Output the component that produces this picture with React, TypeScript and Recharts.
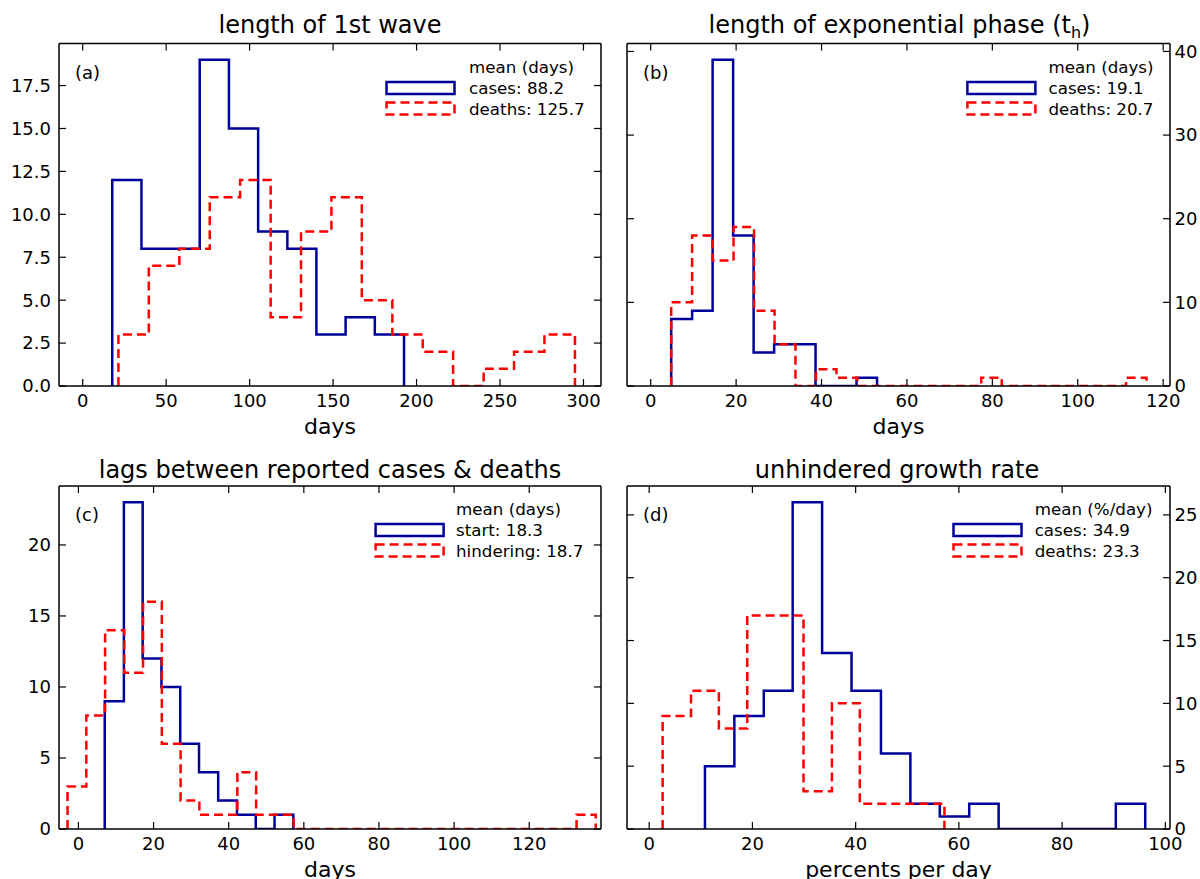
import React from 'react';
import { LineChart, Line, XAxis, YAxis, Legend } from 'recharts';

const FONT = "'DejaVu Sans', 'Bitstream Vera Sans', sans-serif";
const BLUE = '#00009c';
const RED = '#ff0000';

// ---------- panel (a): length of 1st wave ----------
const aCasesEdges = [17.7, 35.2, 52.6, 70.1, 87.6, 105.1, 122.6, 140.0, 157.5, 175.0, 192.5];
const aCasesCounts = [12, 8, 8, 19, 15, 9, 8, 3, 4, 3];
const aDeathsEdges = [21.4, 39.6, 57.9, 76.1, 94.3, 112.6, 130.8, 149.0, 167.2, 185.5, 203.7, 221.9, 240.2, 258.4, 276.6, 294.9];
const aDeathsCounts = [3, 7, 8, 11, 12, 4, 9, 11, 5, 3, 2, 0, 1, 2, 3];
const aXTicks = [0, 50, 100, 150, 200, 250, 300];
const aYTicks = [0, 2.5, 5, 7.5, 10, 12.5, 15, 17.5];
const aNames = ['cases: 88.2', 'deaths: 125.7'];

// ---------- panel (b): length of exponential phase ----------
const bCasesEdges = [4.8, 9.7, 14.5, 19.3, 24.1, 28.9, 33.8, 38.6, 43.4, 48.2, 53.0];
const bCasesCounts = [8, 9, 39, 18, 4, 5, 5, 0, 0, 1];
const bDeathsEdges = [4.8, 9.7, 14.5, 19.4, 24.2, 29.0, 33.9, 38.7, 43.5, 48.4, 53.2, 58.0, 62.9, 67.7, 72.6, 77.4, 82.2, 87.1, 91.9, 96.7, 101.6, 106.4, 111.3, 116.1];
const bDeathsCounts = [10, 18, 15, 19, 9, 5, 0, 2, 1, 0, 0, 0, 0, 0, 0, 1, 0, 0, 0, 0, 0, 0, 1];
const bXTicks = [0, 20, 40, 60, 80, 100, 120];
const bYTicks = [0, 10, 20, 30, 40];
const bNames = ['cases: 19.1', 'deaths: 20.7'];

// ---------- panel (c): lags between reported cases & deaths ----------
const cStartEdges = [7.0, 12.1, 17.1, 22.1, 27.1, 32.1, 37.2, 42.2, 47.2, 52.2, 57.2];
const cStartCounts = [9, 23, 12, 10, 6, 4, 2, 1, 0, 1];
const cHinderEdges = [-2.9, 2.1, 7.1, 12.2, 17.2, 22.2, 27.2, 32.2, 37.3, 42.3, 47.3, 52.3, 57.3, 62.4, 67.4, 72.4, 77.4, 82.4, 87.5, 92.5, 97.5, 102.5, 107.5, 112.6, 117.6, 122.6, 127.6, 132.6, 137.7];
const cHinderCounts = [3, 8, 14, 11, 16, 6, 2, 1, 1, 4, 1, 1, 0, 0, 0, 0, 0, 0, 0, 0, 0, 0, 0, 0, 0, 0, 0, 1];
const cXTicks = [0, 20, 40, 60, 80, 100, 120];
const cYTicks = [0, 5, 10, 15, 20];
const cNames = ['start: 18.3', 'hindering: 18.7'];

// ---------- panel (d): unhindered growth rate ----------
const dCasesEdges = [10.8, 16.5, 22.2, 27.8, 33.5, 39.2, 44.9, 50.6, 56.3, 62.0, 67.7, 73.4, 79.1, 84.8, 90.4, 96.1];
const dCasesCounts = [5, 9, 11, 26, 14, 11, 6, 2, 1, 2, 0, 0, 0, 0, 2];
const dDeathsEdges = [2.6, 8.1, 13.5, 19.0, 24.4, 29.9, 35.4, 40.8, 46.3, 51.7, 57.2];
const dDeathsCounts = [9, 11, 8, 17, 17, 3, 10, 2, 2, 2];
const dXTicks = [0, 20, 40, 60, 80, 100];
const dYTicks = [0, 5, 10, 15, 20, 25];
const dNames = ['cases: 34.9', 'deaths: 23.3'];

function stepPoints(edges: number[], counts: number[]) {
  const pts: { x: number; y: number }[] = [{ x: edges[0], y: 0 }];
  counts.forEach((c, i) => {
    pts.push({ x: edges[i], y: c });
    pts.push({ x: edges[i + 1], y: c });
  });
  pts.push({ x: edges[edges.length - 1], y: 0 });
  return pts;
}

type PanelCfg = {
  left: number; top: number; W: number; H: number;
  plot: { l: number; r: number; t: number; b: number };
  leftW: number; rightW: number; labelSide: 'left' | 'right';
  xDomain: [number, number]; yDomain: [number, number];
  xTicks: number[]; yTicks: number[]; yFmt: (v: number) => string;
  title: string; sub?: string; titleX: number; titleY: number;
  xLabel: string; legendTitle: string; names: string[];
  handleOff: number; textOff: number; letter: string;
  s1: { x: number; y: number }[]; s2: { x: number; y: number }[];
};

const panels: PanelCfg[] = [
  {
    left: 0, top: 0, W: 610, H: 440, plot: { l: 59, r: 601, t: 43.5, b: 386 },
    leftW: 59, rightW: 1, labelSide: 'left',
    xDomain: [-14.2, 310.5], yDomain: [0, 19.95], xTicks: aXTicks, yTicks: aYTicks,
    yFmt: (v) => v.toFixed(1), title: 'length of 1st wave', titleX: 330, titleY: 32.5,
    xLabel: 'days', legendTitle: 'mean (days)', names: aNames, handleOff: 214.5, textOff: 132, letter: '(a)',
    s1: stepPoints(aCasesEdges, aCasesCounts), s2: stepPoints(aDeathsEdges, aDeathsCounts),
  },
  {
    left: 600, top: 0, W: 600, H: 440, plot: { l: 27, r: 570, t: 43.5, b: 386 },
    leftW: 1, rightW: 30, labelSide: 'right',
    xDomain: [-5.55, 121.6], yDomain: [0, 40.95], xTicks: bXTicks, yTicks: bYTicks,
    yFmt: (v) => String(v), title: 'length of exponential phase (t', sub: 'h', titleX: 299.5, titleY: 33,
    xLabel: 'days', legendTitle: 'mean (days)', names: bNames, handleOff: 202.6, textOff: 121.5, letter: '(b)',
    s1: stepPoints(bCasesEdges, bCasesCounts), s2: stepPoints(bDeathsEdges, bDeathsCounts),
  },
  {
    left: 0, top: 440, W: 610, H: 439, plot: { l: 59, r: 601, t: 46, b: 389 },
    leftW: 59, rightW: 1, labelSide: 'left',
    xDomain: [-5.17, 139.1], yDomain: [0, 24.15], xTicks: cXTicks, yTicks: cYTicks,
    yFmt: (v) => String(v), title: 'lags between reported cases & deaths', titleX: 330, titleY: 37.5,
    xLabel: 'days', legendTitle: 'mean (days)', names: cNames, handleOff: 225.4, textOff: 145, letter: '(c)',
    s1: stepPoints(cStartEdges, cStartCounts), s2: stepPoints(cHinderEdges, cHinderCounts),
  },
  {
    left: 600, top: 440, W: 600, H: 439, plot: { l: 27, r: 570, t: 46, b: 389 },
    leftW: 1, rightW: 30, labelSide: 'right',
    xDomain: [-4.3, 100.9], yDomain: [0, 27.3], xTicks: dXTicks, yTicks: dYTicks,
    yFmt: (v) => String(v), title: 'unhindered growth rate', titleX: 297, titleY: 37.5,
    xLabel: 'percents per day', legendTitle: 'mean (%/day)', names: dNames, handleOff: 216.5, textOff: 135.3, letter: '(d)',
    s1: stepPoints(dCasesEdges, dCasesCounts), s2: stepPoints(dDeathsEdges, dDeathsCounts),
  },
];

const axisLine = { stroke: '#000', strokeWidth: 1.5 };
const tickLine = { stroke: '#000', strokeWidth: 1.2 };
const tickText = { fill: '#000', fontSize: 18, fontFamily: FONT };
const NoTick = () => <g />;

function Panel({ cfg }: { cfg: PanelCfg }) {
  const { plot, W, H } = cfg;
  const margin = {
    top: plot.t - 1,
    bottom: H - plot.b - 50,
    left: plot.l - cfg.leftW,
    right: W - plot.r - cfg.rightW,
  };
  const pw = plot.r - plot.l;
  const hx = pw - cfg.handleOff;
  const tx = pw - cfg.textOff;
  const leftLabeled = cfg.labelSide === 'left';

  const titleContent = () => (
    <text x={cfg.titleX} y={cfg.titleY} textAnchor="middle" fontFamily={FONT} fontSize={24} fill="#000">
      {cfg.title}
      {cfg.sub ? <tspan fontSize={16} dy={4.5}>{cfg.sub}</tspan> : null}
      {cfg.sub ? <tspan dy={-4.5}>)</tspan> : null}
    </text>
  );

  const legendContent = () => (
    <svg width={pw} height={85} style={{ display: 'block', overflow: 'visible' }}>
      <text x={16} y={34.5} fontFamily={FONT} fontSize={18} fill="#000">{cfg.letter}</text>
      <text x={tx} y={29} fontFamily={FONT} fontSize={16.7} fill="#000">{cfg.legendTitle}</text>
      <rect x={hx} y={38} width={68} height={12} fill="none" stroke={BLUE} strokeWidth={2.5} />
      <text x={tx} y={50} fontFamily={FONT} fontSize={16.7} fill="#000">{cfg.names[0]}</text>
      <rect x={hx} y={58.5} width={68} height={12} fill="none" stroke={RED} strokeWidth={2.5} strokeDasharray="9 5" />
      <text x={tx} y={71} fontFamily={FONT} fontSize={16.7} fill="#000">{cfg.names[1]}</text>
    </svg>
  );

  return (
    <div style={{ position: 'absolute', left: cfg.left, top: cfg.top, width: W, height: H }}>
      <LineChart width={W} height={H} margin={margin}>
        <XAxis
          xAxisId="b" orientation="bottom" dataKey="x" type="number" domain={cfg.xDomain}
          allowDataOverflow ticks={cfg.xTicks} interval={0} height={50}
          tickSize={-7} tickMargin={15} tick={tickText} tickLine={tickLine} axisLine={axisLine}
          label={{ value: cfg.xLabel, position: 'insideBottom', offset: 2.5, fill: '#000', fontSize: 22, fontFamily: FONT }}
        />
        <XAxis
          xAxisId="t" orientation="top" dataKey="x" type="number" domain={cfg.xDomain}
          allowDataOverflow ticks={cfg.xTicks} interval={0} height={1}
          tickSize={-7} tick={NoTick} tickLine={tickLine} axisLine={axisLine}
          label={{ content: titleContent }}
        />
        <YAxis
          yAxisId="l" orientation="left" type="number" domain={cfg.yDomain} allowDataOverflow
          ticks={cfg.yTicks} interval={0} width={cfg.leftW} tickSize={-7} tickMargin={15}
          tick={leftLabeled ? tickText : NoTick} tickFormatter={cfg.yFmt}
          tickLine={tickLine} axisLine={axisLine}
        />
        <YAxis
          yAxisId="r" orientation="right" type="number" domain={cfg.yDomain} allowDataOverflow
          ticks={cfg.yTicks} interval={0} width={cfg.rightW} tickSize={-7} tickMargin={11.5}
          tick={leftLabeled ? NoTick : { ...tickText, textAnchor: 'start' }} tickFormatter={cfg.yFmt}
          tickLine={tickLine} axisLine={axisLine}
        />
        <Legend
          layout="horizontal" verticalAlign="middle" align="center"
          wrapperStyle={{ left: plot.l, top: plot.t, width: pw, height: 85, margin: 0, padding: 0 }}
          content={legendContent}
        />
        <Line
          xAxisId="b" yAxisId="l" data={cfg.s1} dataKey="y" name={cfg.names[0]} type="linear"
          stroke={BLUE} strokeWidth={2.5} dot={false} activeDot={false} isAnimationActive={false}
        />
        <Line
          xAxisId="b" yAxisId="l" data={cfg.s2} dataKey="y" name={cfg.names[1]} type="linear"
          stroke={RED} strokeWidth={2.5} strokeDasharray="9 5" dot={false} activeDot={false} isAnimationActive={false}
        />
      </LineChart>
    </div>
  );
}

export default function App() {
  return (
    <div style={{ position: 'absolute', left: 0, top: 0, width: 1200, height: 879, background: '#fff', overflow: 'hidden' }}>
      {panels.map((p, i) => (
        <Panel key={i} cfg={p} />
      ))}
    </div>
  );
}
